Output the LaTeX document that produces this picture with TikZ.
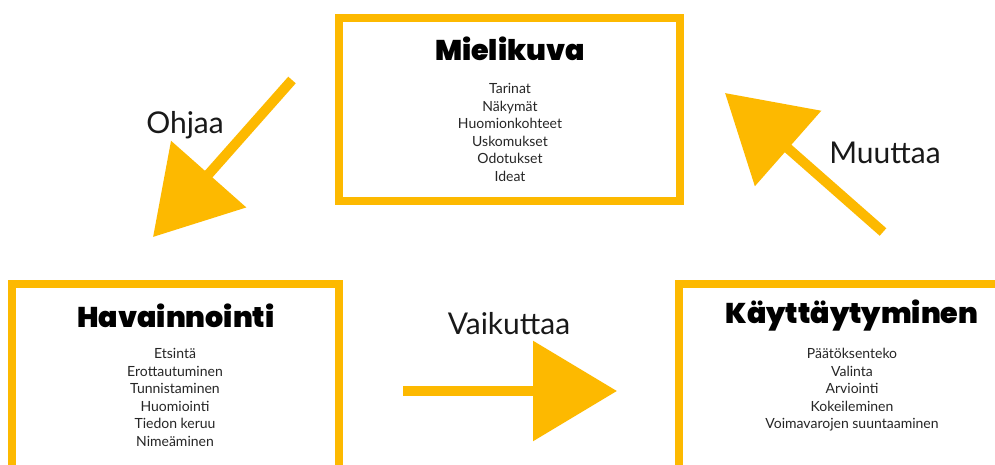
\documentclass[tikz,border=0pt]{standalone}
\usepackage{fontspec}
\setmainfont{Lato}
\newfontfamily\titlefont{Poppins Black}
\usetikzlibrary{arrows.meta}
\definecolor{amber}{RGB}{253,185,0}
\begin{document}
\begin{tikzpicture}[x=1pt,y=-1pt,
 box/.style={draw=amber,line width=8pt,rectangle,inner sep=0pt},
 title/.style={font=\titlefont\fontsize{28.5}{34}\selectfont,anchor=base,inner sep=0pt},
 items/.style={font=\fontsize{14}{17.6}\selectfont,align=center,anchor=north,inner sep=0pt,text=black!85},
 flow/.style={amber,line width=10pt,-{Triangle[length=84pt,width=98pt]}},
 lbl/.style={font=\fontsize{30}{36}\selectfont,inner sep=0pt,text=black!90}]
\clip (0,0) rectangle (995,464);
\fill[white] (0,0) rectangle (995,464);
% boxes
\node[box,minimum width=341pt,minimum height=183pt] (mb) at (509.5,109.5) {};
\node[box,minimum width=327pt,minimum height=216pt] (hb) at (175.5,392) {};
\node[box,minimum width=351pt,minimum height=216pt] (kb) at (854.5,392) {};
% titles
\node[title] (mt) at (510,60) {Mielikuva};
\node[title] (ht) at (176,327) {Havainnointi};
\node[title] (kt) at (852,323) {Käyttäytyminen};
% lists
\node[items] (ml) at (510,83) {Tarinat\\Näkymät\\Huomionkohteet\\Uskomukset\\Odotukset\\Ideat};
\node[items] (hl) at (175,348) {Etsintä\\Erottautuminen\\Tunnistaminen\\Huomiointi\\Tiedon keruu\\Nimeäminen};
\node[items] (kl) at (852,348) {Päätöksenteko\\Valinta\\Arviointi\\Kokeileminen\\Voimavarojen suuntaaminen};
% arrows
\coordinate (a1s) at (292,80);
\coordinate (a1e) at (153,237);
\coordinate (a2s) at (403,391);
\coordinate (a2e) at (617,391);
\coordinate (a3s) at (883,232);
\coordinate (a3e) at (725,93);
\draw[flow] (a1s) -- (a1e);
\draw[flow] (a2s) -- (a2e);
\draw[flow] (a3s) -- (a3e);
% labels
\node[lbl] (l1) at (185,125) {Ohjaa};
\node[lbl] (l2) at (509,324) {Vaikuttaa};
\node[lbl] (l3) at (885,153) {Muuttaa};
\end{tikzpicture}
\end{document}
